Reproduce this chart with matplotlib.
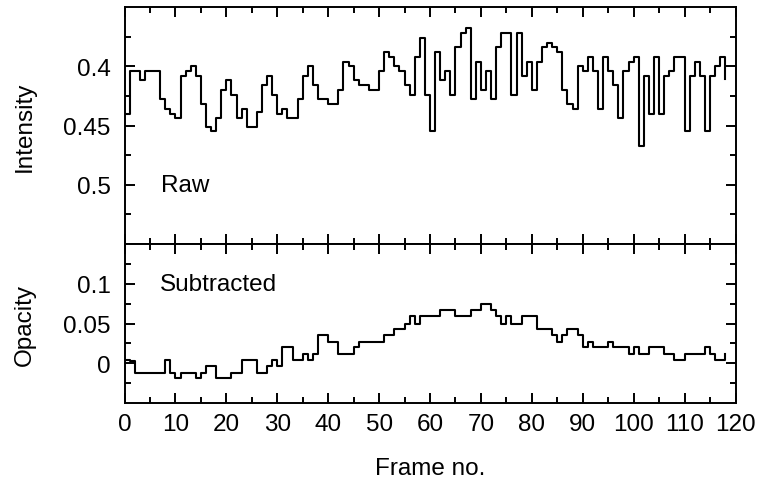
import numpy as np
import matplotlib
matplotlib.use('Agg')
from matplotlib import pyplot as plt

plt.rcParams['font.family'] = ['Liberation Sans', 'DejaVu Sans']
plt.rcParams['font.size'] = 17.5

# frame numbers 0..118
frames = np.arange(119)

# raw intensity (top panel, inverted axis)
intensity = [
    0.440, 0.404, 0.404, 0.412, 0.404, 0.404, 0.404, 0.428, 0.436, 0.440,
    0.444, 0.408, 0.404, 0.400, 0.408, 0.432, 0.451, 0.455, 0.444, 0.420,
    0.412, 0.424, 0.444, 0.436, 0.451, 0.451, 0.439, 0.416, 0.408, 0.424,
    0.440, 0.436, 0.444, 0.444, 0.428, 0.408, 0.400, 0.416, 0.428, 0.428,
    0.432, 0.432, 0.420, 0.396, 0.400, 0.412, 0.416, 0.416, 0.420, 0.420,
    0.404, 0.388, 0.392, 0.400, 0.404, 0.416, 0.424, 0.392, 0.376, 0.424,
    0.455, 0.388, 0.412, 0.404, 0.424, 0.384, 0.372, 0.368, 0.428, 0.396,
    0.420, 0.404, 0.428, 0.384, 0.372, 0.372, 0.424, 0.372, 0.408, 0.396,
    0.420, 0.396, 0.384, 0.380, 0.384, 0.388, 0.420, 0.432, 0.436, 0.400,
    0.404, 0.392, 0.404, 0.436, 0.392, 0.404, 0.416, 0.444, 0.404, 0.396,
    0.392, 0.467, 0.408, 0.440, 0.392, 0.440, 0.408, 0.404, 0.392, 0.392,
    0.455, 0.408, 0.396, 0.408, 0.455, 0.408, 0.400, 0.392, 0.411,
]

# subtracted opacity (bottom panel)
opacity = [
    0.004, 0.003, -0.012, -0.012, -0.012, -0.012, -0.012, -0.012, 0.004, -0.012,
    -0.019, -0.012, -0.012, -0.012, -0.019, -0.012, -0.003, -0.003, -0.019, -0.019,
    -0.019, -0.012, -0.012, 0.004, 0.004, 0.004, -0.012, -0.012, -0.003, 0.004,
    -0.003, 0.020, 0.020, 0.004, 0.004, 0.012, 0.004, 0.012, 0.035, 0.035,
    0.027, 0.027, 0.012, 0.012, 0.012, 0.020, 0.027, 0.027, 0.027, 0.027,
    0.027, 0.035, 0.035, 0.043, 0.043, 0.050, 0.059, 0.050, 0.059, 0.059,
    0.059, 0.059, 0.067, 0.067, 0.067, 0.059, 0.059, 0.059, 0.067, 0.067,
    0.074, 0.074, 0.067, 0.059, 0.050, 0.059, 0.050, 0.050, 0.059, 0.059,
    0.059, 0.043, 0.043, 0.043, 0.035, 0.027, 0.035, 0.043, 0.043, 0.035,
    0.020, 0.027, 0.020, 0.020, 0.020, 0.027, 0.020, 0.020, 0.020, 0.012,
    0.020, 0.012, 0.012, 0.020, 0.020, 0.020, 0.012, 0.012, 0.004, 0.004,
    0.012, 0.012, 0.012, 0.012, 0.020, 0.012, 0.004, 0.004, 0.012,
]

xticks = list(range(0, 121, 10))
top_ticks = [0.4, 0.45, 0.5]
top_labels = ['0.4', '0.45', '0.5']
bot_ticks = [0, 0.05, 0.1]
bot_labels = ['0', '0.05', '0.1']

fig = plt.figure(figsize=(7.6, 4.81), dpi=100)
W, H = 760.0, 481.0
left, right = 124.5 / W, 735.5 / W
ax1 = fig.add_axes([left, 1 - 245 / H, right - left, (245 - 8) / H])
ax2 = fig.add_axes([left, 1 - 404 / H, right - left, (404 - 245) / H])

lw = 1.5
for ax in (ax1, ax2):
    for s in ax.spines.values():
        s.set_linewidth(1.4)
    ax.set_xlim(0, 120)
    ax.set_xticks(xticks)
    ax.set_xticks(np.arange(5, 120, 10), minor=True)
    ax.tick_params(which='both', direction='in', top=True, right=True,
                   width=1.4, colors='black')
    ax.tick_params(which='major', length=7.5)
    ax.tick_params(which='minor', length=4)
    ax.tick_params(axis='y', pad=10)
    ax.tick_params(axis='x', pad=7)

# top panel
ax1.step(frames, intensity, where='post', color='black', lw=lw)
ax1.set_ylim(0.55, 0.35)
ax1.set_yticks(top_ticks)
ax1.set_yticklabels(top_labels)
ax1.set_yticks([0.375, 0.425, 0.475, 0.525], minor=True)
ax1.tick_params(axis='x', labelbottom=False)
ax1.set_ylabel('Intensity')
ax1.yaxis.set_label_coords(-0.145, 0.5)
ax1.text(7.2, 0.5, 'Raw', ha='left', va='center')

# bottom panel
ax2.step(frames, opacity, where='post', color='black', lw=lw)
ax2.set_ylim(-0.05, 0.15)
ax2.set_yticks(bot_ticks)
ax2.set_yticklabels(bot_labels)
ax2.set_yticks([-0.025, 0.025, 0.075, 0.125], minor=True)
ax2.set_xticklabels([str(x) for x in xticks])
ax2.set_ylabel('Opacity')
ax2.yaxis.set_label_coords(-0.145, 0.5)
ax2.set_xlabel('Frame no.')
ax2.xaxis.set_label_coords(0.5, -0.34)
ax2.text(7.0, 0.1, 'Subtracted', ha='left', va='center')

plt.savefig('out.png', dpi=100)
